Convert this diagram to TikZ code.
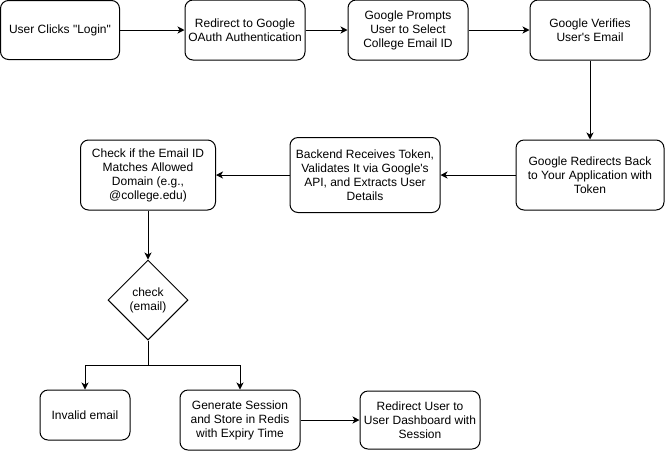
\documentclass[tikz,border=0pt]{standalone}
\usepackage{fontspec}
\setmainfont{Liberation Sans}
\usetikzlibrary{arrows.meta,shapes.geometric}

\tikzset{
  stepbox/.style={draw=black,line width=1pt,rounded corners=8pt,align=center,
    inner sep=2pt,font=\fontsize{12}{14}\selectfont},
  checkdiamond/.style={draw=black,line width=1pt,diamond,aspect=1,inner sep=0pt,
    minimum width=80pt,minimum height=80pt,align=center,font=\fontsize{12}{14}\selectfont},
  flow/.style={draw=black,line width=1pt,-{Stealth[length=7pt,width=7pt,inset=2pt]}}
}

\begin{document}
\begin{tikzpicture}[x=1pt,y=-1pt]
\useasboundingbox (0,0) rectangle (666,451);

% top row:
\path (60,30) node[stepbox,minimum width=119pt,minimum height=59pt] (login) {User Clicks \textquotedbl Login\textquotedbl};
\path (245,30) node[stepbox,minimum width=120pt,minimum height=60pt] (oauth) {Redirect to Google\\OAuth Authentication};
\path (408,30) node[stepbox,minimum width=120pt,minimum height=60pt] (prompt) {Google Prompts\\User to Select\\College Email ID};
\path (590,30) node[stepbox,minimum width=120pt,minimum height=60pt] (verify) {Google Verifies\\User\textquotesingle s Email};

% middle row:
\path (590,175) node[stepbox,minimum width=148pt,minimum height=70pt] (back) {Google Redirects Back\\to Your Application with\\Token};
\path (365,175) node[stepbox,minimum width=150pt,minimum height=75pt] (backend) {Backend Receives Token,\\Validates It via Google\textquotesingle s\\API, and Extracts User\\Details};
\path (148,175) node[stepbox,minimum width=135pt,minimum height=70pt] (domain) {Check if the Email ID\\Matches Allowed\\Domain (e.g.,\\@college.edu)};

% decision and bottom row:
\path (148,300) node[checkdiamond] (check) {check\\(email)};
\coordinate (fork) at (148,365);
\path (85,415) node[stepbox,minimum width=90pt,minimum height=50pt] (invalid) {Invalid email};
\path (240,420) node[stepbox,minimum width=120pt,minimum height=60pt] (session) {Generate Session\\and Store in Redis\\with Expiry Time};
\path (420,420) node[stepbox,minimum width=120pt,minimum height=58pt] (dashboard) {Redirect User to\\User Dashboard with\\Session};

% connectors:
\draw[flow] (login) -- (oauth);
\draw[flow] (oauth) -- (prompt);
\draw[flow] (prompt) -- (verify);
\draw[flow] (verify) -- (back);
\draw[flow] (back) -- (backend);
\draw[flow] (backend) -- (domain);
\draw[flow] (domain) -- (check);
\draw[line width=1pt] (check.south) -- (fork);
\draw[flow] (fork) -| (invalid.north);
\draw[flow] (fork) -| (session.north);
\draw[flow] (session) -- (dashboard);

\end{tikzpicture}
\end{document}
